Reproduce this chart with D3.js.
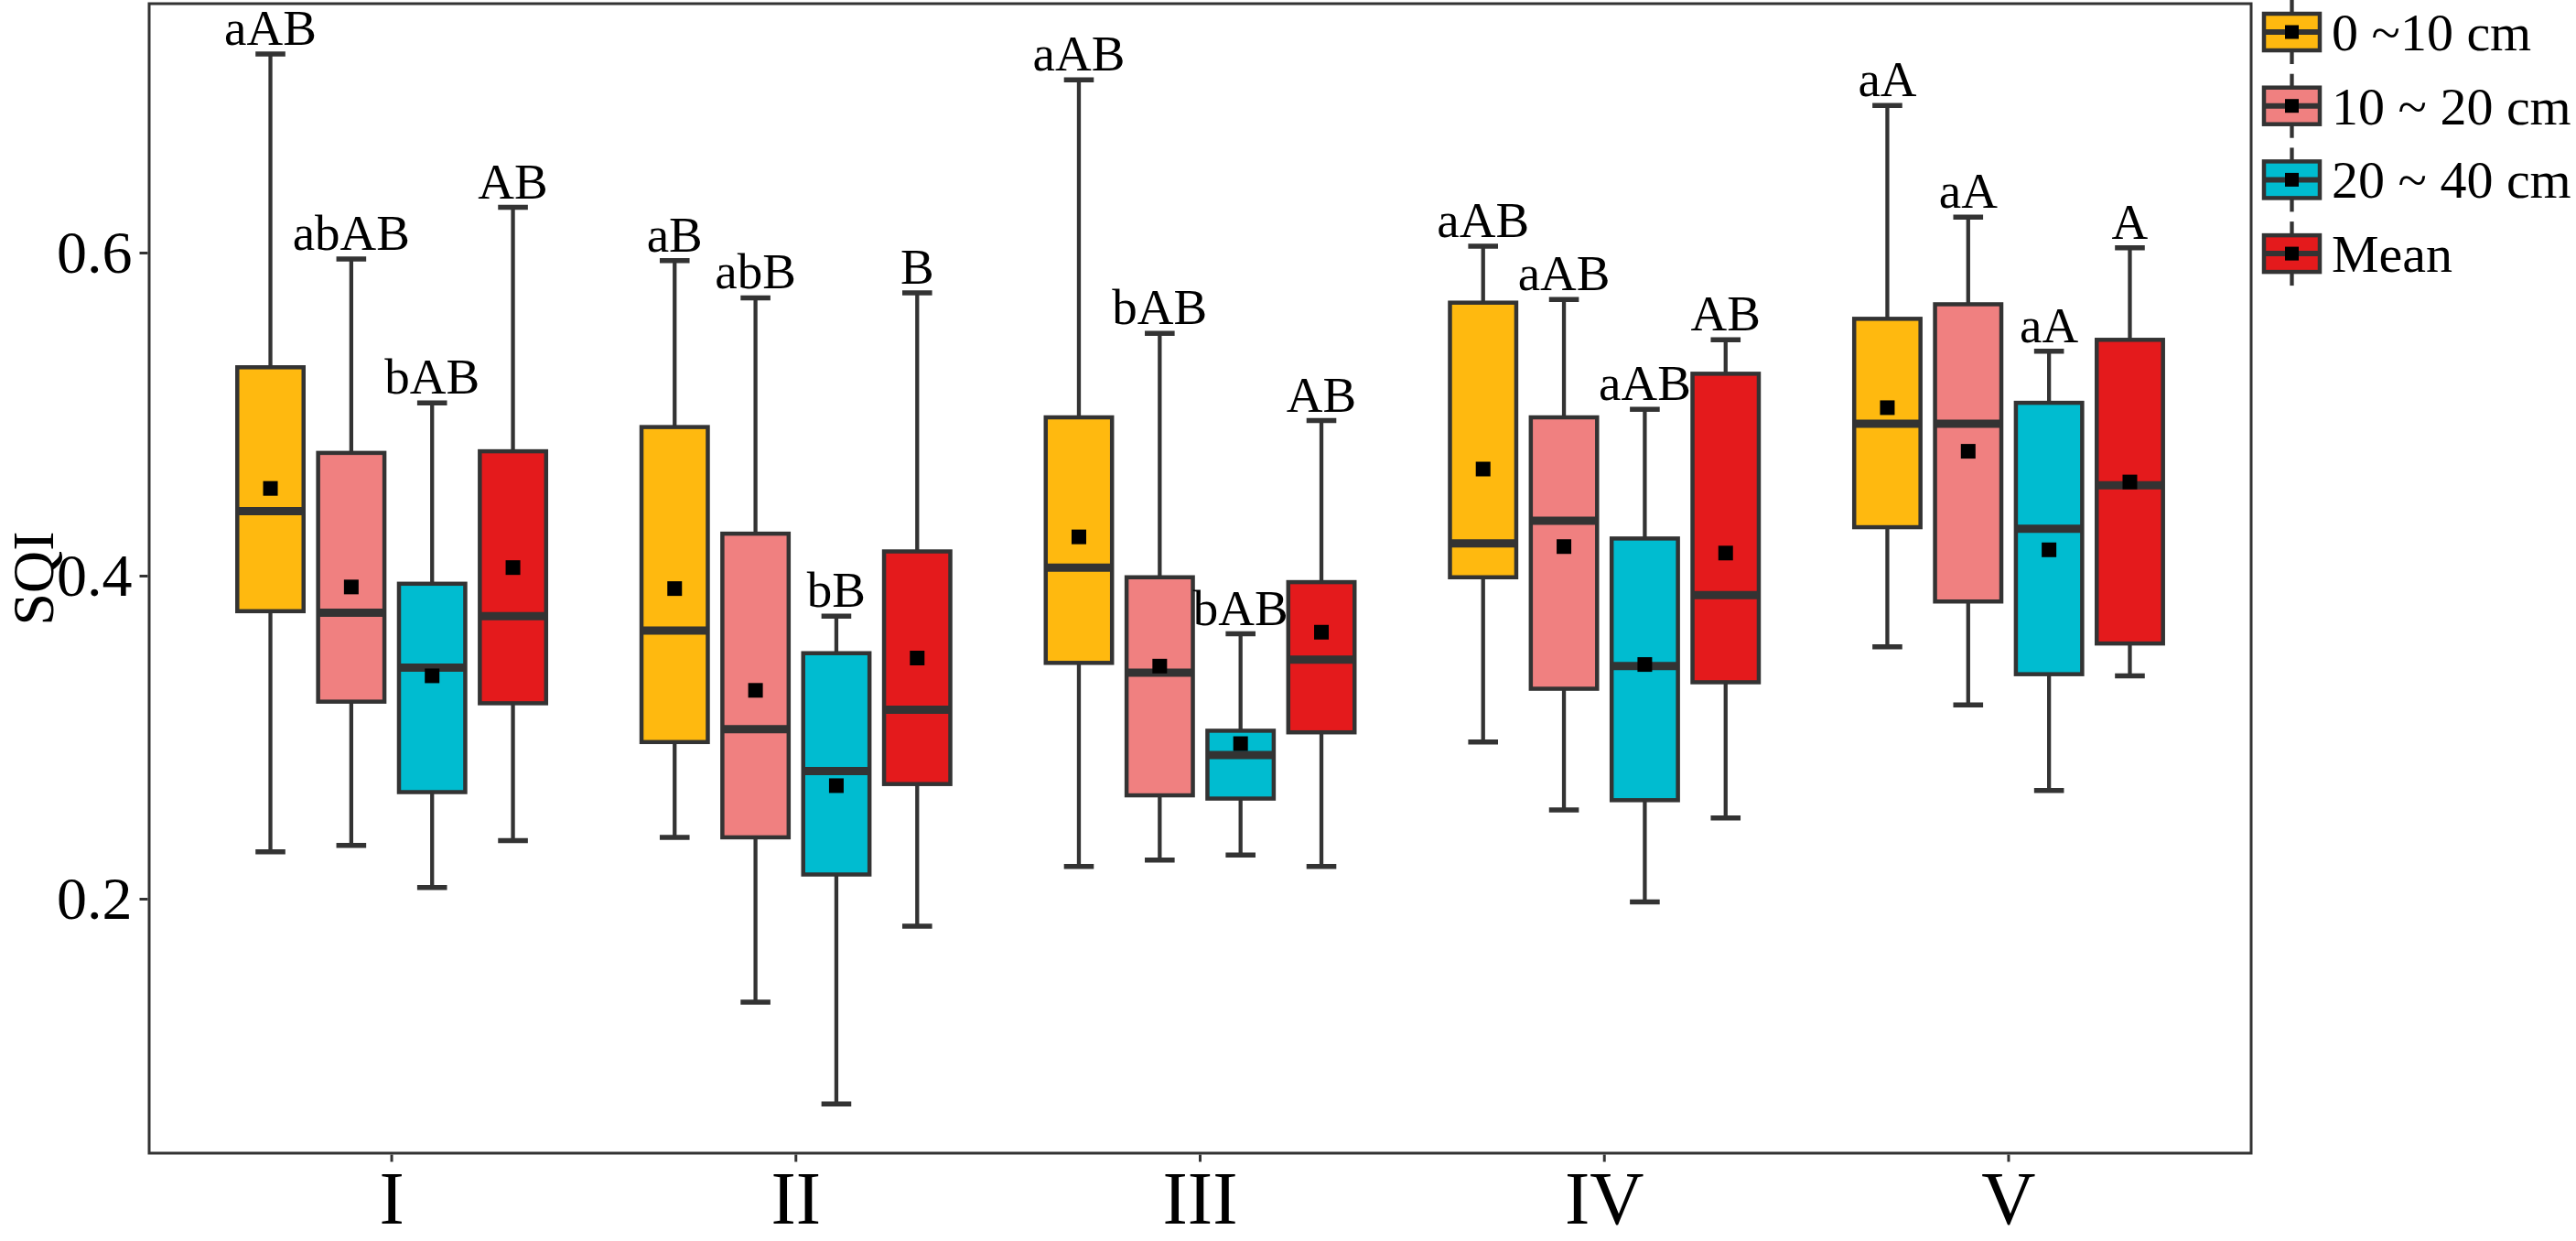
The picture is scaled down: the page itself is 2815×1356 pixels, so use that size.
<!DOCTYPE html>
<html>
<head>
<meta charset="utf-8">
<script src="https://cdn.jsdelivr.net/npm/d3@7"></script>
<style>
  body { margin: 0; background: #fff; }
  svg { display: block; }
  text { font-family: "Liberation Serif", "Times New Roman", serif; fill: #000; }
</style>
</head>
<body>
<div id="chart"></div>
<script>
// sites and depth layers
const categories = ['I', 'II', 'III', 'IV', 'V'];
const series = ['0 ~10 cm', '10 ~ 20 cm', '20 ~ 40 cm', 'Mean'];
const colors = ['#FFB90F', '#F08080', '#00BCD0', '#E41A1C'];

// rows follow series, columns follow categories
const whiskerLow = [
  [0.229, 0.238, 0.220, 0.297, 0.356],
  [0.233, 0.136, 0.224, 0.255, 0.320],
  [0.207, 0.073, 0.227, 0.198, 0.267],
  [0.236, 0.183, 0.220, 0.250, 0.338]
];
const q1 = [
  [0.378, 0.297, 0.346, 0.399, 0.430],
  [0.322, 0.238, 0.264, 0.330, 0.384],
  [0.266, 0.215, 0.262, 0.261, 0.339],
  [0.321, 0.271, 0.303, 0.334, 0.358]
];
const median = [
  [0.440, 0.366, 0.405, 0.420, 0.494],
  [0.377, 0.305, 0.340, 0.434, 0.494],
  [0.343, 0.279, 0.289, 0.344, 0.429],
  [0.375, 0.317, 0.348, 0.388, 0.456]
];
const q3 = [
  [0.529, 0.492, 0.498, 0.569, 0.559],
  [0.476, 0.426, 0.399, 0.498, 0.568],
  [0.395, 0.352, 0.304, 0.423, 0.507],
  [0.477, 0.415, 0.396, 0.525, 0.546]
];
const whiskerHigh = [
  [0.723, 0.595, 0.707, 0.604, 0.691],
  [0.596, 0.572, 0.550, 0.571, 0.622],
  [0.507, 0.375, 0.364, 0.503, 0.539],
  [0.628, 0.575, 0.496, 0.546, 0.603]
];
const means = [
  [0.454, 0.392, 0.424, 0.466, 0.504],
  [0.393, 0.329, 0.344, 0.418, 0.477],
  [0.338, 0.270, 0.296, 0.345, 0.416],
  [0.405, 0.349, 0.365, 0.414, 0.458]
];
const letters = [
  ['aAB', 'aB', 'aAB', 'aAB', 'aA'],
  ['abAB', 'abB', 'bAB', 'aAB', 'aA'],
  ['bAB', 'bB', 'bAB', 'aAB', 'aA'],
  ['AB', 'B', 'AB', 'AB', 'A']
];
const yTicks = [0.2, 0.4, 0.6];
const yTitle = 'SQI';

const width = 2815, height = 1356;
const margin = { top: 4, right: 355, bottom: 96, left: 163 };
const ink = '#333333';

const svg = d3.select('#chart').append('svg')
  .attr('width', width)
  .attr('height', height);
svg.append('rect').attr('width', width).attr('height', height).attr('fill', '#fff');

const x = d3.scaleBand()
  .domain(categories)
  .range([margin.left, width - margin.right])
  .paddingInner(0)
  .paddingOuter(0.1);
const dodge = d3.scaleBand()
  .domain(series)
  .range([-0.4 * x.step(), 0.4 * x.step()]);
const boxW = dodge.bandwidth() * 0.82;
const capW = boxW * 0.45;

const y = d3.scaleLinear()
  .domain([0.0425, 0.7541])
  .range([height - margin.bottom, margin.top]);

// flatten to one record per box
const boxes = [];
series.forEach((s, i) => {
  categories.forEach((c, j) => {
    boxes.push({
      series: s, cat: c, color: colors[i],
      low: whiskerLow[i][j], q1: q1[i][j], med: median[i][j],
      q3: q3[i][j], high: whiskerHigh[i][j], mean: means[i][j],
      label: letters[i][j]
    });
  });
});

const g = svg.append('g');
const box = g.selectAll('.box')
  .data(boxes)
  .enter().append('g')
  .attr('class', 'box')
  .attr('transform', d => `translate(${x(d.cat) + x.bandwidth() / 2 + dodge(d.series) + dodge.bandwidth() / 2},0)`);

box.append('line')
  .attr('x1', 0).attr('x2', 0)
  .attr('y1', d => y(d.high)).attr('y2', d => y(d.q3))
  .attr('stroke', ink).attr('stroke-width', 4.3);
box.append('line')
  .attr('x1', 0).attr('x2', 0)
  .attr('y1', d => y(d.q1)).attr('y2', d => y(d.low))
  .attr('stroke', ink).attr('stroke-width', 4.3);
box.append('line')
  .attr('x1', -capW / 2).attr('x2', capW / 2)
  .attr('y1', d => y(d.high)).attr('y2', d => y(d.high))
  .attr('stroke', ink).attr('stroke-width', 5.5);
box.append('line')
  .attr('x1', -capW / 2).attr('x2', capW / 2)
  .attr('y1', d => y(d.low)).attr('y2', d => y(d.low))
  .attr('stroke', ink).attr('stroke-width', 5.5);
box.append('rect')
  .attr('x', -boxW / 2)
  .attr('width', boxW)
  .attr('y', d => y(d.q3))
  .attr('height', d => y(d.q1) - y(d.q3))
  .attr('fill', d => d.color)
  .attr('stroke', ink).attr('stroke-width', 4.5);
box.append('line')
  .attr('x1', -boxW / 2).attr('x2', boxW / 2)
  .attr('y1', d => y(d.med)).attr('y2', d => y(d.med))
  .attr('stroke', ink).attr('stroke-width', 9);
box.append('rect')
  .attr('x', -8).attr('width', 16).attr('height', 16)
  .attr('y', d => y(d.mean) - 8)
  .attr('fill', '#000');
box.append('text')
  .attr('x', 0)
  .attr('y', d => y(d.high) - 10)
  .attr('text-anchor', 'middle')
  .attr('font-size', 55)
  .text(d => d.label);

// panel border
svg.append('rect')
  .attr('x', margin.left).attr('y', margin.top)
  .attr('width', width - margin.left - margin.right)
  .attr('height', height - margin.top - margin.bottom)
  .attr('fill', 'none')
  .attr('stroke', ink).attr('stroke-width', 3);

// axes
const yAxis = svg.append('g')
  .attr('transform', `translate(${margin.left - 1.5},0)`)
  .call(d3.axisLeft(y).tickValues(yTicks).tickSize(9).tickPadding(8).tickFormat(d3.format('.1f')));
yAxis.select('.domain').remove();
yAxis.selectAll('line').attr('stroke', ink).attr('stroke-width', 3);
yAxis.selectAll('text').attr('font-size', 66).attr('fill', '#000')
  .style('font-family', '"Liberation Serif", "Times New Roman", serif');

const xAxis = svg.append('g')
  .attr('transform', `translate(0,${height - margin.bottom + 1.5})`)
  .call(d3.axisBottom(x).tickSize(8).tickPadding(9));
xAxis.select('.domain').remove();
xAxis.selectAll('line').attr('stroke', ink).attr('stroke-width', 3);
xAxis.selectAll('text').attr('font-size', 82).attr('fill', '#000')
  .style('font-family', '"Liberation Serif", "Times New Roman", serif');

svg.append('text')
  .attr('transform', `translate(58,${(margin.top + height - margin.bottom) / 2}) rotate(-90)`)
  .attr('text-anchor', 'middle')
  .attr('font-size', 64)
  .text(yTitle);

// legend
const legend = svg.append('g')
  .attr('transform', `translate(${width - margin.right + 12},0)`);
const keyStep = 80.7;
const item = legend.selectAll('.key')
  .data(series)
  .enter().append('g')
  .attr('class', 'key')
  .attr('transform', (d, i) => `translate(0,${35 + i * keyStep})`);
item.append('line')
  .attr('x1', 32.5).attr('x2', 32.5).attr('y1', -35).attr('y2', 35)
  .attr('stroke', ink).attr('stroke-width', 4.3);
item.append('rect')
  .attr('x', 2).attr('y', -20).attr('width', 61).attr('height', 40)
  .attr('fill', (d, i) => colors[i])
  .attr('stroke', ink).attr('stroke-width', 4.5);
item.append('line')
  .attr('x1', 2).attr('x2', 63).attr('y1', 0).attr('y2', 0)
  .attr('stroke', ink).attr('stroke-width', 6);
item.append('rect')
  .attr('x', 25).attr('y', -7.5).attr('width', 15).attr('height', 15)
  .attr('fill', '#000');
item.append('text')
  .attr('x', 76).attr('y', 20)
  .attr('font-size', 58)
  .text(d => d);
</script>
</body>
</html>
